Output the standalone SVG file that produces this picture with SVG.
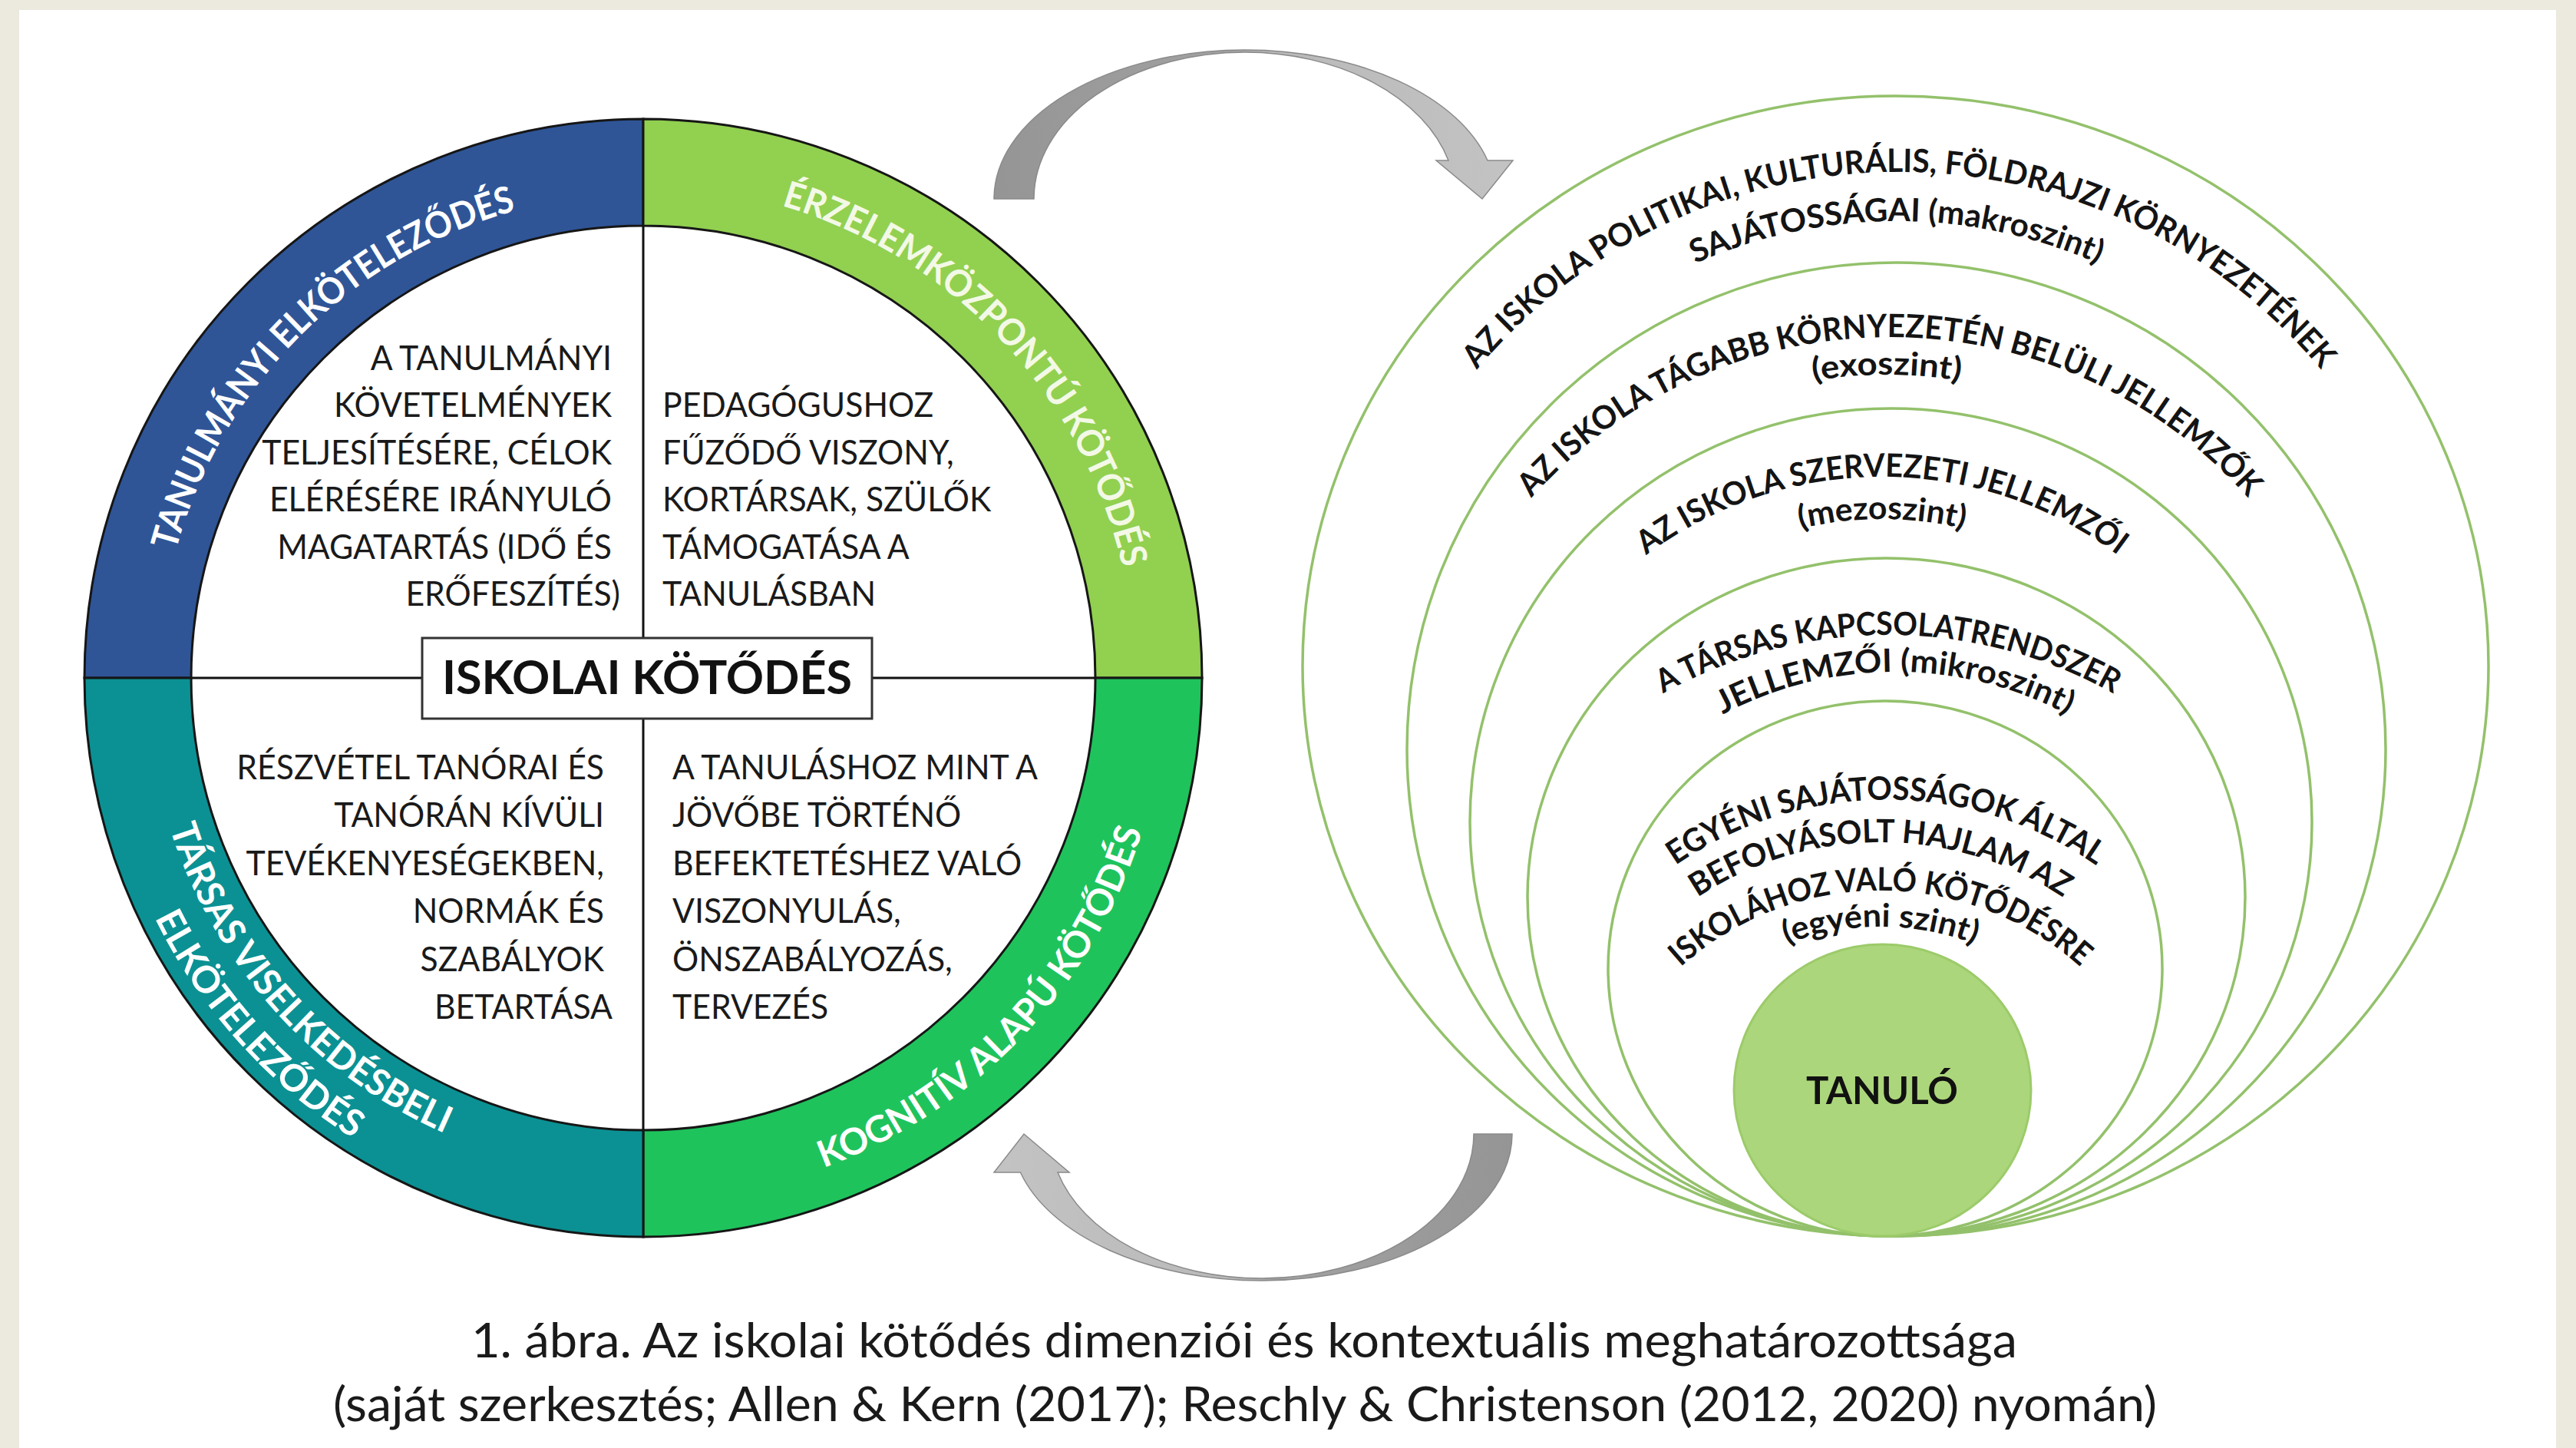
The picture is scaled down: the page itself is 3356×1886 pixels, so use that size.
<svg xmlns="http://www.w3.org/2000/svg" xmlns:xlink="http://www.w3.org/1999/xlink" width="3356" height="1886" viewBox="0 0 3356 1886">
<style>
.ring{stroke:#161616;stroke-width:3;}
.div{stroke:#111;stroke-width:3;fill:none;}
.qt{font-family:Lato,'Open Sans','DejaVu Sans',sans-serif;font-size:45px;fill:#1a1a1a;}
.rt{font-family:Lato,'Open Sans','DejaVu Sans',sans-serif;font-size:48px;font-weight:bold;}
.et{font-family:Lato,'Open Sans','DejaVu Sans',sans-serif;font-size:42px;font-weight:bold;fill:#141414;}
.lvl{fill:none;stroke:#93c16b;stroke-width:3.5;}
.cap{font-family:Lato,'Open Sans','DejaVu Sans',sans-serif;font-size:62px;fill:#1a1a1a;}
.arr{stroke:#8a8a8a;stroke-width:1.5;}
</style>
<defs>
<linearGradient id="gTop" x1="0" y1="0" x2="1" y2="0">
<stop offset="0" stop-color="#959595"/><stop offset="0.46" stop-color="#a2a2a2"/><stop offset="0.54" stop-color="#b9b9b9"/><stop offset="1" stop-color="#c3c3c3"/>
</linearGradient>
<linearGradient id="gBot" x1="1" y1="0" x2="0" y2="0">
<stop offset="0" stop-color="#959595"/><stop offset="0.46" stop-color="#a2a2a2"/><stop offset="0.54" stop-color="#b9b9b9"/><stop offset="1" stop-color="#c3c3c3"/>
</linearGradient>
<path id="pTL" d="M209.4 938 A631 631 0 0 1 893 254.4"/>
<path id="pTR" d="M801.1 243.1 A641 641 0 0 1 1474.6 957.8"/>
<path id="pBR" d="M797.7 1561.8 A680 680 0 0 0 1513.5 804.8"/>
<path id="pBL1" d="M197.3 792.9 A647 647 0 0 0 860.6 1529.6"/>
<path id="pBL2" d="M135.9 784.3 A709 709 0 0 0 862.7 1591.6"/>
<path id="pE1a" d="M1801.5 694.9 A715.6 715.6 0 0 1 3146.5 694.9"/>
<path id="pE1b" d="M2052.9 440.2 A650.5 650.5 0 0 1 2889.1 440.2"/>
<path id="pE2a" d="M1895.6 799.9 A625 625 0 0 1 3028.4 799.9"/>
<path id="pE2b" d="M2170 565.2 A576 576 0 0 1 2746 565.2"/>
<path id="pE3a" d="M2031.8 839.7 A513 513 0 0 1 2872.2 839.7"/>
<path id="pE3b" d="M2223 737.4 A458 458 0 0 1 2681 737.4"/>
<path id="pE4a" d="M2035 1003 A601 601 0 0 1 2885 1003"/>
<path id="pE4b" d="M2128.9 1015.9 A481 481 0 0 1 2809.1 1015.9"/>
<path id="pE5a" d="M2088.2 1213.6 A481.4 481.4 0 0 1 2825.8 1213.6"/>
<path id="pE5b" d="M2120.2 1250.8 A430.6 430.6 0 0 1 2779.8 1250.8"/>
<path id="pE5c" d="M2130.5 1326.3 A390 390 0 0 1 2769.5 1326.3"/>
<path id="pE5d" d="M2253.3 1269 A343 343 0 0 1 2646.7 1269"/>
</defs>

<g id="background">
<rect x="0" y="0" width="3356" height="1886" fill="#ece9df"/>
<rect x="25" y="13" width="3305" height="1873" fill="#ffffff"/>
</g>

<g id="q-tanulmanyi">
<path class="ring" fill="#2f5597" d="M110 883 A728 728 0 0 1 838 155 L838 294 A589 589 0 0 0 249 883 Z"/>
<text class="rt" fill="#ffffff"><textPath href="#pTL" xlink:href="#pTL" startOffset="50%" text-anchor="middle" textLength="656" lengthAdjust="spacingAndGlyphs">TANULMÁNYI ELKÖTELEZŐDÉS</textPath></text>
<text class="qt" text-anchor="end" transform="matrix(0.95 0 0 1 40.4 0)">
<tspan x="808" y="482">A TANULMÁNYI</tspan>
<tspan x="808" y="543.5">KÖVETELMÉNYEK</tspan>
<tspan x="808" y="605">TELJESÍTÉSÉRE, CÉLOK</tspan>
<tspan x="808" y="666.5">ELÉRÉSÉRE IRÁNYULÓ</tspan>
<tspan x="808" y="728">MAGATARTÁS (IDŐ ÉS</tspan>
<tspan x="808" y="789.5">ERŐFESZÍTÉS)</tspan>
</text>
</g>

<g id="q-erzelem">
<path class="ring" fill="#92d050" d="M838 155 A728 728 0 0 1 1566 883 L1427 883 A589 589 0 0 0 838 294 Z"/>
<text class="rt" fill="#f3f9e6"><textPath href="#pTR" xlink:href="#pTR" startOffset="50%" text-anchor="middle" textLength="680" lengthAdjust="spacingAndGlyphs">ÉRZELEMKÖZPONTÚ KÖTŐDÉS</textPath></text>
<text class="qt" transform="matrix(0.95 0 0 1 43.15 0)">
<tspan x="863" y="543.5">PEDAGÓGUSHOZ</tspan>
<tspan x="863" y="605">FŰZŐDŐ VISZONY,</tspan>
<tspan x="863" y="666.5">KORTÁRSAK, SZÜLŐK</tspan>
<tspan x="863" y="728">TÁMOGATÁSA A</tspan>
<tspan x="863" y="789.5">TANULÁSBAN</tspan>
</text>
</g>

<g id="q-kognitiv">
<path class="ring" fill="#1fc35c" d="M1566 883 A728 728 0 0 1 838 1611 L838 1472 A589 589 0 0 0 1427 883 Z"/>
<text class="rt" fill="#ffffff"><textPath href="#pBR" xlink:href="#pBR" startOffset="50%" text-anchor="middle" textLength="626" lengthAdjust="spacingAndGlyphs">KOGNITÍV ALAPÚ KÖTŐDÉS</textPath></text>
<text class="qt" transform="matrix(0.95 0 0 1 43.8 0)">
<tspan x="876" y="1015">A TANULÁSHOZ MINT A</tspan>
<tspan x="876" y="1077.5">JÖVŐBE TÖRTÉNŐ</tspan>
<tspan x="876" y="1140">BEFEKTETÉSHEZ VALÓ</tspan>
<tspan x="876" y="1202.5">VISZONYULÁS,</tspan>
<tspan x="876" y="1265">ÖNSZABÁLYOZÁS,</tspan>
<tspan x="876" y="1327.5">TERVEZÉS</tspan>
</text>
</g>

<g id="q-tarsas">
<path class="ring" fill="#0b9193" d="M838 1611 A728 728 0 0 1 110 883 L249 883 A589 589 0 0 0 838 1472 Z"/>
<text class="rt" fill="#ffffff"><textPath href="#pBL1" xlink:href="#pBL1" startOffset="50%" text-anchor="middle" textLength="552" lengthAdjust="spacingAndGlyphs">TÁRSAS VISELKEDÉSBELI</textPath></text>
<text class="rt" fill="#ffffff"><textPath href="#pBL2" xlink:href="#pBL2" startOffset="50%" text-anchor="middle" textLength="392" lengthAdjust="spacingAndGlyphs">ELKÖTELEZŐDÉS</textPath></text>
<text class="qt" text-anchor="end" transform="matrix(0.95 0 0 1 39.9 0)">
<tspan x="798" y="1015">RÉSZVÉTEL TANÓRAI ÉS</tspan>
<tspan x="798" y="1077.5">TANÓRÁN KÍVÜLI</tspan>
<tspan x="798" y="1140">TEVÉKENYESÉGEKBEN,</tspan>
<tspan x="798" y="1202.5">NORMÁK ÉS</tspan>
<tspan x="798" y="1265">SZABÁLYOK</tspan>
<tspan x="798" y="1327.5">BETARTÁSA</tspan>
</text>
</g>

<g id="center-label">
<path class="div" d="M838 294 V831 M838 936 V1472 M249 883 H550 M1136 883 H1427"/>
<rect x="550" y="831" width="586" height="105" fill="#ffffff" stroke="#333333" stroke-width="3"/>
<text x="843" y="904" text-anchor="middle" font-family="Lato,'Open Sans','DejaVu Sans',sans-serif" font-size="61" font-weight="bold" fill="#111">ISKOLAI KÖTŐDÉS</text>
</g>

<g id="level-makro">
<ellipse class="lvl" cx="2469.5" cy="867.5" rx="772.5" ry="742.5"/>
<text class="et"><textPath href="#pE1a" xlink:href="#pE1a" startOffset="50%" text-anchor="middle" textLength="1254" lengthAdjust="spacingAndGlyphs">AZ ISKOLA POLITIKAI, KULTURÁLIS, FÖLDRAJZI KÖRNYEZETÉNEK</textPath></text>
<text class="et"><textPath href="#pE1b" xlink:href="#pE1b" startOffset="50%" text-anchor="middle" textLength="540" lengthAdjust="spacingAndGlyphs">SAJÁTOSSÁGAI (makroszint)</textPath></text>
</g>
<g id="level-exo">
<ellipse class="lvl" cx="2470.5" cy="976" rx="637.5" ry="634"/>
<text class="et"><textPath href="#pE2a" xlink:href="#pE2a" startOffset="50%" text-anchor="middle" textLength="1054" lengthAdjust="spacingAndGlyphs">AZ ISKOLA TÁGABB KÖRNYEZETÉN BELÜLI JELLEMZŐK</textPath></text>
<text class="et"><textPath href="#pE2b" xlink:href="#pE2b" startOffset="50%" text-anchor="middle" textLength="192" lengthAdjust="spacingAndGlyphs">(exoszint)</textPath></text>
</g>
<g id="level-mezo">
<ellipse class="lvl" cx="2463.5" cy="1071" rx="548.5" ry="539"/>
<text class="et"><textPath href="#pE3a" xlink:href="#pE3a" startOffset="50%" text-anchor="middle" textLength="659" lengthAdjust="spacingAndGlyphs">AZ ISKOLA SZERVEZETI JELLEMZŐI</textPath></text>
<text class="et"><textPath href="#pE3b" xlink:href="#pE3b" startOffset="50%" text-anchor="middle" textLength="215" lengthAdjust="spacingAndGlyphs">(mezoszint)</textPath></text>
</g>
<g id="level-mikro">
<ellipse class="lvl" cx="2457.5" cy="1168.5" rx="467.5" ry="441.5"/>
<text class="et"><textPath href="#pE4a" xlink:href="#pE4a" startOffset="50%" text-anchor="middle" textLength="613" lengthAdjust="spacingAndGlyphs">A TÁRSAS KAPCSOLATRENDSZER</textPath></text>
<text class="et"><textPath href="#pE4b" xlink:href="#pE4b" startOffset="50%" text-anchor="middle" textLength="467" lengthAdjust="spacingAndGlyphs">JELLEMZŐI (mikroszint)</textPath></text>
</g>
<g id="level-egyeni">
<ellipse class="lvl" cx="2456" cy="1261.5" rx="361" ry="348.5"/>
<text class="et"><textPath href="#pE5a" xlink:href="#pE5a" startOffset="50%" text-anchor="middle" textLength="583" lengthAdjust="spacingAndGlyphs">EGYÉNI SAJÁTOSSÁGOK ÁLTAL</textPath></text>
<text class="et"><textPath href="#pE5b" xlink:href="#pE5b" startOffset="50%" text-anchor="middle" textLength="505" lengthAdjust="spacingAndGlyphs">BEFOLYÁSOLT HAJLAM AZ</textPath></text>
<text class="et"><textPath href="#pE5c" xlink:href="#pE5c" startOffset="50%" text-anchor="middle" textLength="570" lengthAdjust="spacingAndGlyphs">ISKOLÁHOZ VALÓ KÖTŐDÉSRE</textPath></text>
<text class="et"><textPath href="#pE5d" xlink:href="#pE5d" startOffset="50%" text-anchor="middle" textLength="250" lengthAdjust="spacingAndGlyphs">(egyéni szint)</textPath></text>
</g>
<g id="tanulo">
<ellipse cx="2452.5" cy="1420" rx="193.5" ry="190" fill="#acd67b" stroke="#9ccb6a" stroke-width="3"/>
<text x="2452" y="1438" text-anchor="middle" font-family="Lato,'Open Sans','DejaVu Sans',sans-serif" font-size="49" font-weight="bold" fill="#111">TANULÓ</text>
</g>

<g id="connectors">
<path class="arr" fill="url(#gTop)" d="M1295 259 A327 194 0 0 1 1622 65 A327 194 0 0 1 1938 209 L1971 209 L1931 259 L1871 209 L1887 209 A275 191 0 0 0 1622 68 A275 191 0 0 0 1347 259 Z"/>
<path class="arr" fill="url(#gBot)" d="M1970 1477 A326 191 0 0 1 1644 1668 A326 191 0 0 1 1329.4 1527 L1295 1527 L1334 1477 L1393 1527 L1378 1527 A276 188 0 0 0 1644 1665 A276 188 0 0 0 1920 1477 Z"/>
</g>

<g id="caption">
<text class="cap" x="1621" y="1768" text-anchor="middle" textLength="2014" lengthAdjust="spacingAndGlyphs">1. ábra. Az iskolai kötődés dimenziói és kontextuális meghatározottsága</text>
<text class="cap" x="1622" y="1851" text-anchor="middle" textLength="2376" lengthAdjust="spacingAndGlyphs">(saját szerkesztés; Allen &amp; Kern (2017); Reschly &amp; Christenson (2012, 2020) nyomán)</text>
</g>
</svg>
